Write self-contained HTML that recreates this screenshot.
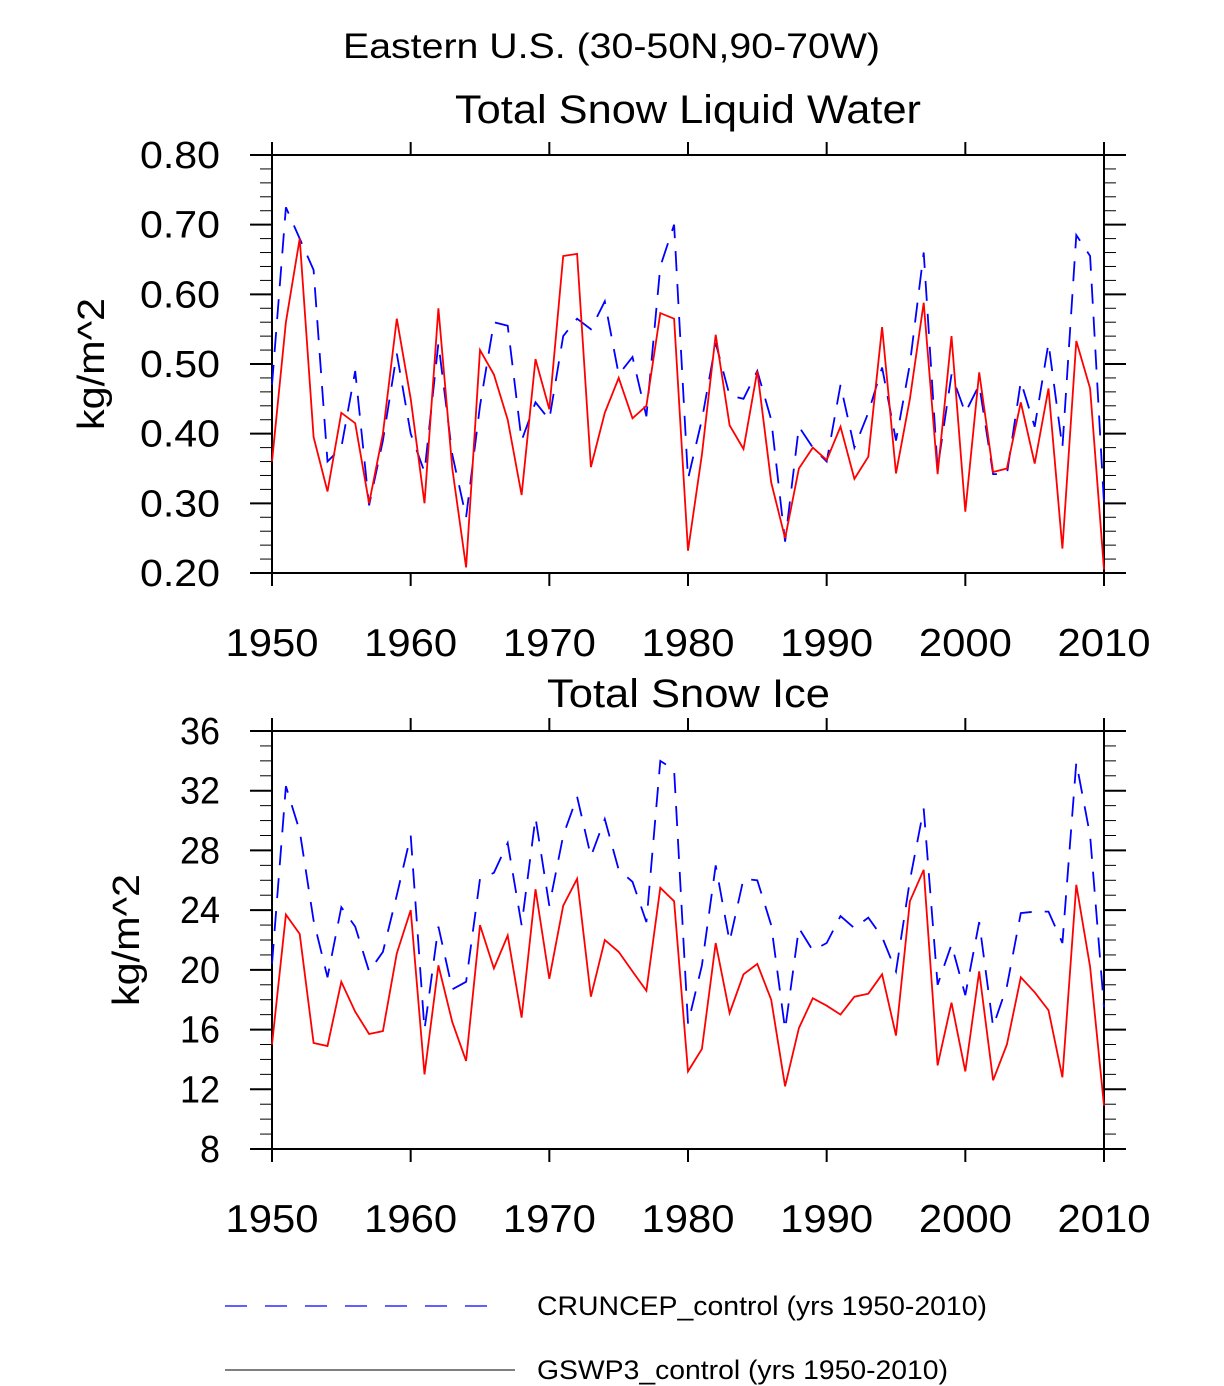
<!DOCTYPE html>
<html><head><meta charset="utf-8"><style>
html,body{margin:0;padding:0;background:#fff;}
svg{display:block;font-family:"Liberation Sans",sans-serif;}
</style></head><body>
<svg id="chart" width="1224" height="1386" viewBox="0 0 1224 1386">
<text x="343" y="58" font-size="35" textLength="537" lengthAdjust="spacingAndGlyphs">Eastern U.S. (30-50N,90-70W)</text>
<text x="455" y="123" font-size="40" textLength="466" lengthAdjust="spacingAndGlyphs">Total Snow Liquid Water</text>
<text x="547" y="707" font-size="40" textLength="283" lengthAdjust="spacingAndGlyphs">Total Snow Ice</text>
<g id="p1"></g>
<g id="p2"></g>
<g>
<line x1="225" y1="1306" x2="505" y2="1306" stroke="#0000ff" stroke-width="1.3" stroke-dasharray="22,18"/>
<text x="537" y="1315" font-size="27" textLength="450" lengthAdjust="spacingAndGlyphs">CRUNCEP_control (yrs 1950-2010)</text>
<line x1="225" y1="1370" x2="515" y2="1370" stroke="#000" stroke-width="1"/>
<text x="537" y="1379" font-size="27" textLength="411" lengthAdjust="spacingAndGlyphs">GSWP3_control (yrs 1950-2010)</text>
</g>
</svg>
<script>
const years = [];
for (let y = 1950; y <= 2010; y++) years.push(y);
const xTicks = [1950,1960,1970,1980,1990,2000,2010];
const liqGswp3 = [0.36,0.56,0.68,0.395,0.317,0.43,0.415,0.30,0.40,0.565,0.45,0.30,0.58,0.35,0.208,0.52,0.485,0.42,0.312,0.507,0.435,0.655,0.658,0.352,0.43,0.48,0.422,0.44,0.573,0.565,0.232,0.37,0.542,0.412,0.378,0.49,0.33,0.25,0.35,0.38,0.362,0.41,0.335,0.367,0.553,0.343,0.45,0.588,0.342,0.54,0.288,0.488,0.345,0.35,0.445,0.357,0.465,0.235,0.533,0.465,0.205];
const liqCruncep = [0.47,0.725,0.68,0.635,0.36,0.38,0.49,0.297,0.39,0.515,0.40,0.345,0.53,0.37,0.28,0.44,0.56,0.555,0.39,0.445,0.42,0.54,0.565,0.55,0.59,0.485,0.51,0.425,0.64,0.70,0.335,0.42,0.53,0.455,0.45,0.49,0.42,0.245,0.41,0.38,0.36,0.47,0.38,0.43,0.495,0.39,0.50,0.66,0.35,0.485,0.43,0.47,0.342,0.342,0.475,0.41,0.53,0.38,0.685,0.655,0.30];
const liqTicks = ["0.20","0.30","0.40","0.50","0.60","0.70","0.80"];
const iceGswp3 = [15.0,23.7,22.4,15.1,14.9,19.2,17.2,15.7,15.9,21.1,24.0,13.0,20.3,16.5,13.9,23.0,20.1,22.3,16.8,25.4,19.4,24.3,26.1,18.2,22.0,21.2,19.9,18.6,25.5,24.6,13.2,14.7,21.8,17.1,19.7,20.4,18.0,12.2,16.1,18.1,17.6,17.0,18.2,18.4,19.7,15.6,24.6,26.7,13.6,17.8,13.2,19.9,12.6,15.0,19.5,18.5,17.3,12.8,25.7,20.2,10.9];
const iceCruncep = [20.4,32.3,29.3,23.3,19.5,24.2,22.9,19.9,21.2,25.0,29.0,16.0,22.9,18.7,19.2,26.1,26.5,28.5,23.0,30.2,24.3,29.0,31.6,27.6,30.1,26.7,25.9,23.2,34.0,33.4,16.4,20.3,27.0,21.9,26.1,26.0,23.0,16.0,22.8,21.3,21.8,23.6,22.8,23.5,22.2,19.9,26.0,30.8,19.0,21.7,18.3,23.2,16.2,18.9,23.8,23.9,23.9,21.8,33.9,29.0,17.5];
const iceTicks = ["8","12","16","20","24","28","32","36"];

const NS = "http://www.w3.org/2000/svg";
function mk(parent, tag, attrs) {
  const e = document.createElementNS(NS, tag);
  for (const k in attrs) e.setAttribute(k, attrs[k]);
  parent.appendChild(e);
  return e;
}
const X0 = 272, X1 = 1104;
const xs = y => X0 + (y - 1950) / 60 * (X1 - X0);

function panel(g, top, bot, ymin, ymax, ticks, minorStep, red, blue, titleX, name) {
  const ys = v => bot - (v - ymin) / (ymax - ymin) * (bot - top);
  for (let v = ymin; v <= ymax + 1e-9; v += minorStep) {
    const yy = ys(v);
    const l = mk(g, "line", {x1: X0 - 12, x2: X0, y1: yy, y2: yy, stroke: "#000", "stroke-width": 1});
    
    
    const r = mk(g, "line", {x1: X1, x2: X1 + 12, y1: yy, y2: yy, stroke: "#000", "stroke-width": 1});
    
    
  }
  ticks.forEach(t => {
    const yy = ys(parseFloat(t));
    const l = mk(g, "line", {x1: X0 - 22, x2: X0, y1: yy, y2: yy, stroke: "#000", "stroke-width": 2});
    
    
    const r = mk(g, "line", {x1: X1, x2: X1 + 22, y1: yy, y2: yy, stroke: "#000", "stroke-width": 2});
    
    
    const tx = mk(g, "text", {x: X0 - 52, y: yy + 13, "font-size": 38, "text-anchor": "end", textLength: 20 * t.length, lengthAdjust: "spacingAndGlyphs"});
    tx.textContent = t;
    
    
  });
  xTicks.forEach(yr => {
    const xx = xs(yr);
    const a = mk(g, "line", {x1: xx, x2: xx, y1: bot, y2: bot + 13, stroke: "#000", "stroke-width": 2});
    
    
    const b = mk(g, "line", {x1: xx, x2: xx, y1: top - 13, y2: top, stroke: "#000", "stroke-width": 2});
    
    
    const tx = mk(g, "text", {x: xx, y: bot + 83, "font-size": 39, "text-anchor": "middle", textLength: 93, lengthAdjust: "spacingAndGlyphs"});
    tx.textContent = String(yr);
    
    
  });
  const fr = mk(g, "rect", {x: X0, y: top, width: X1 - X0, height: bot - top, fill: "none", stroke: "#000", "stroke-width": 2});
  
  
  const bp = blue.map((v, i) => xs(years[i]).toFixed(1) + "," + ys(v).toFixed(1)).join(" ");
  const bl = mk(g, "polyline", {points: bp, fill: "none", stroke: "#0000ff", "stroke-width": 1.8, "stroke-dasharray": "20,13"});
  
  
  const rp = red.map((v, i) => xs(years[i]).toFixed(1) + "," + ys(v).toFixed(1)).join(" ");
  const rl = mk(g, "polyline", {points: rp, fill: "none", stroke: "#ff0000", "stroke-width": 1.8});
  
  
  const cy = (top + bot) / 2;
  const yt = mk(g, "text", {x: titleX, y: cy, "font-size": 38, "text-anchor": "middle", textLength: 132, lengthAdjust: "spacingAndGlyphs", transform: "rotate(-90 " + titleX + " " + cy + ")"});
  yt.textContent = "kg/m^2";
  
  
}
panel(document.getElementById("p1"), 155, 573, 0.2, 0.8, liqTicks, 0.02, liqGswp3, liqCruncep, 104, "liquid");
panel(document.getElementById("p2"), 731, 1149, 8, 36, iceTicks, 1, iceGswp3, iceCruncep, 139, "ice");
</script>
</body></html>
